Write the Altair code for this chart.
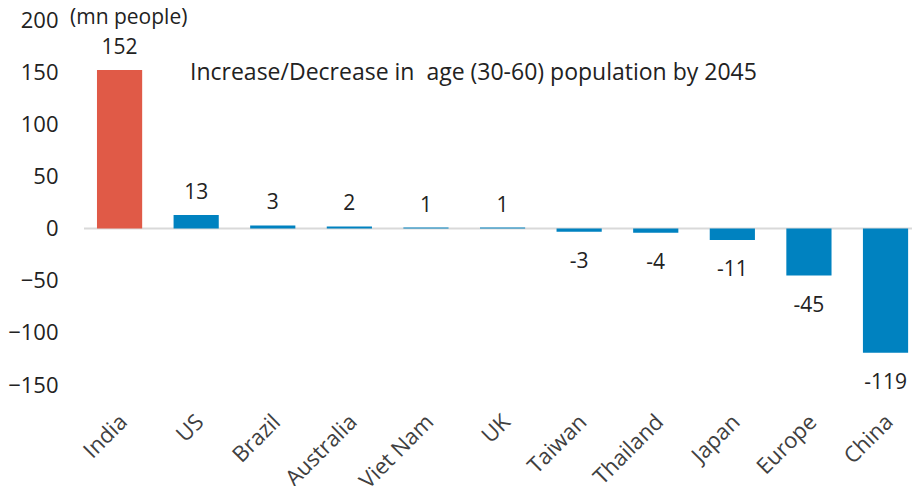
import altair as alt
import pandas as pd

countries = ["India", "US", "Brazil", "Australia", "Viet Nam", "UK",
             "Taiwan", "Thailand", "Japan", "Europe", "China"]
values = [152, 13, 3, 2, 1, 1, -3, -4, -11, -45, -119]
colors = ["#E05A47"] + ["#0082C0"] * 10

unit_note = ["(mn people)"]
title_note = ["Increase/Decrease in\u00a0 age (30-60) population by 2045"]

FONT = "Open Sans"

df = pd.DataFrame({"country": countries, "value": values, "color": colors})
df["label"] = df["value"].astype(str)

x_enc = alt.X("country:N", sort=countries,
              scale=alt.Scale(paddingInner=0.41, paddingOuter=0.11, align=0.77),
              axis=alt.Axis(title=None, labelAngle=-45, labelAlign="right",
                            labelBaseline="middle",
                            labelFontSize=22, labelFont=FONT, labelColor="#404040",
                            labelPadding=33, labelOffset=4,
                            domain=False, ticks=False, grid=False))
y_scale = alt.Scale(domain=[-150, 200], nice=False, zero=True)

base = alt.Chart(df)

bars = base.mark_bar().encode(
    x=x_enc,
    y=alt.Y("value:Q", scale=y_scale,
            axis=alt.Axis(title=None, values=[-150, -100, -50, 0, 50, 100, 150, 200],
                          labelFontSize=22, labelFont=FONT, labelColor="#222222",
                          labelPadding=26, domain=False, ticks=False, grid=False)),
    color=alt.Color("color:N", scale=None),
)

zero = alt.Chart(pd.DataFrame({"z": [0]})).mark_rule(color="#D9D9D9", strokeWidth=2).encode(
    y=alt.Y("z:Q", scale=y_scale),
    x=alt.value(0), x2=alt.value(828),
)

pos_labels = base.transform_filter("datum.value >= 0").mark_text(
    baseline="bottom", dy=-12, fontSize=21, font=FONT, color="#222222"
).encode(x=alt.X("country:N", sort=countries), y=alt.Y("value:Q", scale=y_scale), text="label:N")

neg_labels = base.transform_filter("datum.value < 0").mark_text(
    baseline="top", dy=19, fontSize=21, font=FONT, color="#222222"
).encode(x=alt.X("country:N", sort=countries), y=alt.Y("value:Q", scale=y_scale), text="label:N")

unit = alt.Chart(pd.DataFrame({"t": unit_note})).mark_text(
    align="left", baseline="middle", fontSize=21, font=FONT, color="#222222"
).encode(x=alt.value(-14), y=alt.value(-2), text="t:N")

title = alt.Chart(pd.DataFrame({"t": title_note})).mark_text(
    align="left", baseline="middle", fontSize=23, font=FONT, color="#222222"
).encode(x=alt.value(106), y=alt.value(53), text="t:N")

chart = alt.layer(zero, bars, pos_labels, neg_labels, unit, title).properties(
    width=828, height=365,
    background="white",
    autosize=alt.AutoSizeParams(type="none"),
    padding={"left": 84, "top": 20, "right": 0, "bottom": 101},
).configure_view(stroke=None)

chart.save("out.html", embed_options={"renderer": "svg", "actions": False})
